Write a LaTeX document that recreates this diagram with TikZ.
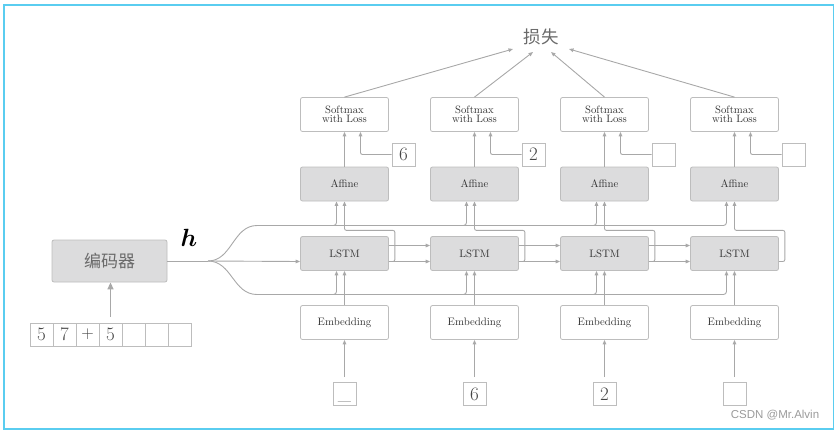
\documentclass[tikz,border=0pt]{standalone}
\usepackage{fontspec}
\newfontfamily\cjk{Noto Sans CJK SC}
\newfontfamily\wmfont{Liberation Sans}
\usepackage{amsmath}
\usepackage{bm}
\usepackage{tikz}
\usetikzlibrary{arrows.meta,calc}
\definecolor{boxfill}{HTML}{DCDCDD}
\definecolor{boxline}{HTML}{BDBDBD}
\definecolor{linecol}{HTML}{A8A8A8}
\definecolor{labeltext}{HTML}{333333}
\definecolor{numtext}{HTML}{454545}
\definecolor{cjktext}{HTML}{6A6A6A}
\definecolor{wmgray}{HTML}{9A9A9A}
\definecolor{framecol}{HTML}{5ACDF0}
\tikzset{
  layer/.style={rectangle, rounded corners=2pt, draw=boxline, line width=0.8pt,
    fill=boxfill, minimum width=88pt, minimum height=34pt, inner sep=0pt,
    text=labeltext, font=\fontsize{10.8}{12}\selectfont},
  lossbox/.style={layer, fill=white, align=center, font=\fontsize{10.7}{9.4}\selectfont},
  cell/.style={rectangle, draw=boxline, line width=0.8pt, minimum size=23pt,
    inner sep=0pt, text=numtext, font=\fontsize{19}{19}\selectfont},
  wire/.style={draw=linecol, line width=0.9pt},
  flow/.style={wire, -{Triangle[length=4.5pt,width=3.6pt]}},
}

\begin{document}
\begin{tikzpicture}[x=1pt,y=-1pt]
\useasboundingbox (0,0) rectangle (838,432);
\draw[framecol, line width=1.8pt] (4.3,4.8) rectangle (833.5,429);

% encoder and its input
\node[layer, minimum width=115pt, minimum height=42pt, text=cjktext,
  font=\cjk\fontsize{17}{17}\selectfont] (enc) at (109.5,261) {编码器};
\foreach \c [count=\k] in {5,7,$+$,5,{},{},{}}
  \node[cell] (in\k) at (41.5+23*\k-23,334.5) {\c};
\draw[flow, line width=1.5pt, -{Triangle[length=7pt,width=6pt]}]
  ([yshift=6pt]in4.north) -- (in4.north |- enc.south);
\node (h) at (189,238) {\fontsize{25}{25}\selectfont$\bm{h}$};

% decoder columns
\foreach \i/\lab/\tok in {1/6/{\vphantom{6}\_},2/2/6,3/{}/2,4/{}/{}} {
  \pgfmathsetmacro\cx{344.5+130*(\i-1)}
  \node[lossbox] (sm\i) at (\cx,114.5) {Softmax\\with Loss};
  \node[layer] (af\i) at (\cx,184) {Affine};
  \node[layer] (ls\i) at (\cx,253.5) {LSTM};
  \node[layer, fill=white] (em\i) at (\cx,322.5) {Embedding};
  \node[cell] (tk\i) at (\cx,394) {\tok};
  \node[cell] (lb\i) at (\cx+59,154.5) {\lab};
  \draw[flow] ([yshift=5pt]tk\i.north) -- (em\i.south);
  \draw[flow] (em\i.north) -- (ls\i.south);
  \draw[flow, rounded corners=2pt] ($(ls\i.east)+(0,8)$) -- ++(6,0)
    |- ($(af\i.south)+(0,29)$) -- (af\i.south);
  \draw[flow] (af\i.north) -- (sm\i.south);
  \draw[flow, rounded corners=2pt] (lb\i.west) -| ($(sm\i.south)+(16,0)$);
}
\foreach \i/\j in {1/2,2/3,3/4} {
  \draw[flow] ($(ls\i.east)+(0,-8)$) -- ($(ls\j.west)+(0,-8)$);
  \draw[flow] ($(ls\i.east)+(0,8)$) -- ($(ls\j.west)+(0,8)$);
}

% h fans out to every column
\coordinate (split) at (208,261);
\draw[wire] (enc.east) -- (split);
\draw[flow] (split) -- ($(ls1.west)+(0,8)$);
\draw[wire] (split) .. controls (232,261) and (233,225.5) .. (257,225.5) coordinate (up);
\draw[wire] (split) .. controls (232,261) and (233,294.5) .. (257,294.5) coordinate (down);
\foreach \i in {1,...,4} {
  \draw[flow, rounded corners=3pt] (up) -| ($(af\i.south)+(-8,0)$);
  \draw[flow, rounded corners=3pt] (down) -| ($(ls\i.south)+(-8,0)$);
}

% loss
\node[text=cjktext, font=\cjk\fontsize{17.5}{17.5}\selectfont] (loss) at (541,37) {损失};
\foreach \i/\dx/\dy in {1/-28/12,2/-8/15,3/10/15,4/28/12}
  \draw[flow] (sm\i.north) -- ($(loss.center)+(\dx,\dy)$);

\node[text=wmgray, font=\wmfont\fontsize{11.5}{11.5}\selectfont] (mark) at (775,415.5) {CSDN @Mr.Alvin};
\end{tikzpicture}
\end{document}
